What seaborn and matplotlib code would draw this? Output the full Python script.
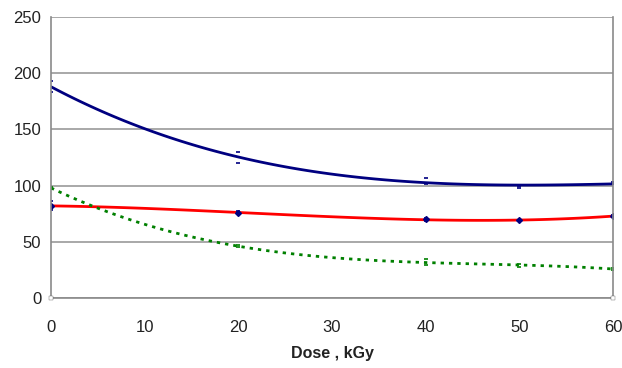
import matplotlib
matplotlib.use("Agg")
import matplotlib.pyplot as plt
import seaborn as sns
import numpy as np
import pandas as pd

dose = [0, 20, 40, 50, 60]
blue_vals = [188, 125, 104, 99, 102]
blue_err = [5, 4.5, 3, 1, 1]
red_vals = [82, 76, 70, 69, 73]
red_err = [4, 1.5, 1.5, 0.5, 0.5]
green_vals = [98, 46, 32, 29, 26]
green_err = [1, 1, 3, 1, 1]
zero_dose = [0, 60]
zero_vals = [0, 0]

x_ticks = [0, 10, 20, 30, 40, 50, 60]
y_ticks = [0, 50, 100, 150, 200, 250]
x_label = "Dose , kGy"

sns.set_theme(style="white")
plt.rcParams['font.family'] = ['Liberation Sans', 'DejaVu Sans']

fig = plt.figure(figsize=(6.22, 3.68), dpi=100)
ax = fig.add_axes([0.082, 0.19, 0.9035, 0.764])

df = pd.DataFrame({"dose": dose, "blue": blue_vals, "red": red_vals, "green": green_vals})

navy = "#000080"
sns.regplot(data=df, x="dose", y="blue", order=3, ci=None, scatter=False, ax=ax,
            line_kws=dict(color=navy, lw=2.0), truncate=True)
sns.regplot(data=df, x="dose", y="red", order=3, ci=None, scatter=False, ax=ax,
            line_kws=dict(color="#ff0000", lw=2.0), truncate=True)
sns.regplot(data=df, x="dose", y="green", order=3, ci=None, scatter=False, ax=ax,
            line_kws=dict(color="#008000", lw=2.0, ls=(0, (1.2, 1.8))), truncate=True)

ax.errorbar(dose, blue_vals, yerr=blue_err, fmt='none', ecolor=navy, elinewidth=0,
            capsize=1.5, capthick=1.2)
ax.errorbar(dose, red_vals, yerr=red_err, fmt='D', ms=3, color=navy, ecolor=navy,
            elinewidth=0, capsize=1.5, capthick=1.2)
ax.errorbar(dose, green_vals, yerr=green_err, fmt='none', ecolor="#008000",
            elinewidth=0, capsize=1.5, capthick=1.2)
sns.scatterplot(x=zero_dose, y=zero_vals, marker='s', s=12, facecolor='white',
                edgecolor='#555555', ax=ax, zorder=5, clip_on=False)

ax.set_xlim(0, 60)
ax.set_ylim(0, 250)
ax.set_xticks(x_ticks)
ax.set_yticks(y_ticks)
ax.yaxis.grid(True, color="#9a9a9a", lw=1.2)
ax.xaxis.grid(False)
for s in ["left", "bottom", "right"]:
    ax.spines[s].set_visible(True)
    ax.spines[s].set_color("#8a8a8a")
    ax.spines[s].set_linewidth(1.2)
ax.spines["top"].set_visible(False)
ax.tick_params(axis='both', direction='out', length=4, width=1, color="#8a8a8a",
               labelsize=12, labelcolor="#222222", pad=6)
ax.tick_params(axis='y', length=3, pad=4)
ax.tick_params(axis='x', pad=12)
ax.set_xlabel(x_label, fontsize=11.5, fontweight='bold', color="#222222", labelpad=8)
ax.set_ylabel("")

fig.savefig("out.png", dpi=100)
